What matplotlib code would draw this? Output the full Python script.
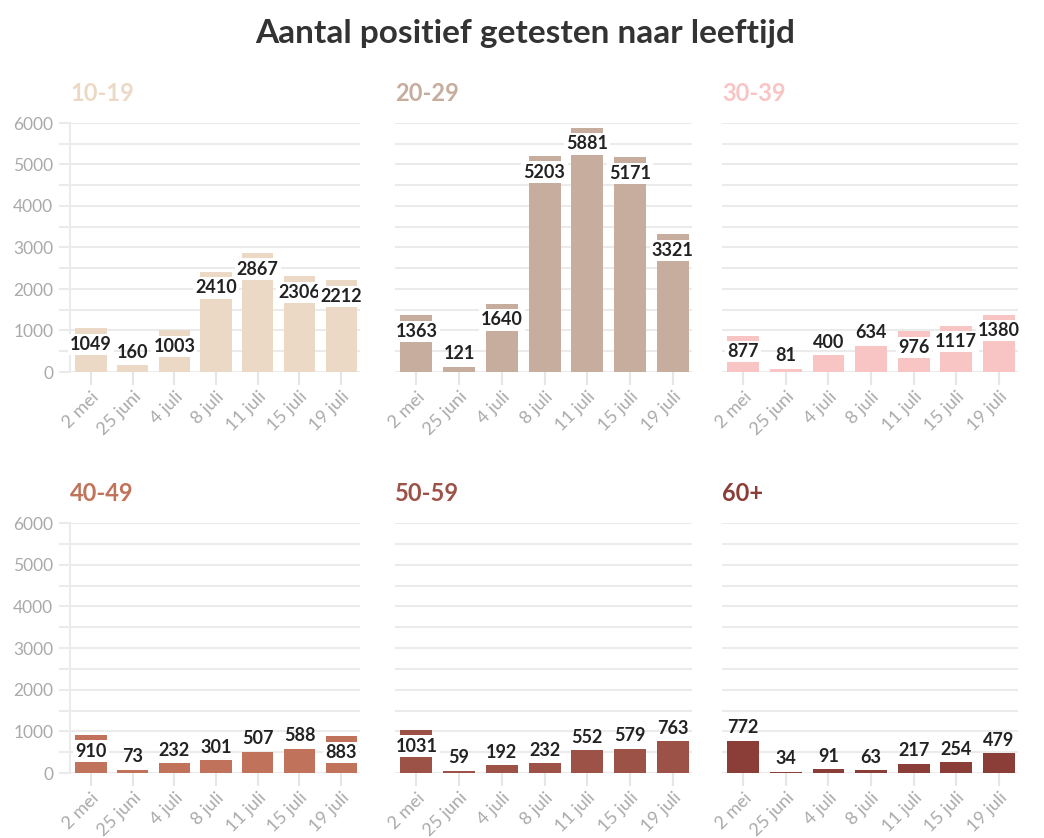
import matplotlib
matplotlib.use('Agg')
import matplotlib.pyplot as plt
import numpy as np

plt.rcParams['font.family'] = ['Lato', 'DejaVu Sans']

dates = ['2 mei', '25 juni', '4 juli', '8 juli', '11 juli', '15 juli', '19 juli']
groups = ['10-19', '20-29', '30-39', '40-49', '50-59', '60+']
colors = ['#ecd9c5', '#c6ad9e', '#f9c4c4', '#c0735a', '#9d5248', '#8b3d37']

v_10_19 = [1049, 160, 1003, 2410, 2867, 2306, 2212]
v_20_29 = [1363, 121, 1640, 5203, 5881, 5171, 3321]
v_30_39 = [877, 81, 400, 634, 976, 1117, 1380]
v_40_49 = [910, 73, 232, 301, 507, 588, 883]
v_50_59 = [1031, 59, 192, 232, 552, 579, 763]
v_60 = [772, 34, 91, 63, 217, 254, 479]
values = [v_10_19, v_20_29, v_30_39, v_40_49, v_50_59, v_60]

W, H = 1044, 838
fig = plt.figure(figsize=(W / 100, H / 100), dpi=100)

# axes boxes in pixels: left, right (x); y of zero line, y of 6000 line
cols = [(70, 360), (395, 692), (722, 1018)]
rows = [(372, 123), (773, 523)]

fig.text(525 / W, 1 - 33 / H, 'Aantal positief getesten naar leeftijd',
         ha='center', va='center', fontsize=24, fontweight='bold', color='#333333')

grid_c = '#ebebeb'
x = np.arange(len(dates))

for i, (name, vals, col) in enumerate(zip(groups, values, colors)):
    r, c = divmod(i, 3)
    l, rgt = cols[c]
    y0, y1 = rows[r]
    ax = fig.add_axes([l / W, 1 - y0 / H, (rgt - l) / W, (y0 - y1) / H])
    ax.set_xlim(-0.5, 6.45)
    ax.set_ylim(0, 6000)
    ax.set_yticks(np.arange(0, 6001, 1000))
    ax.set_yticks(np.arange(500, 6000, 1000), minor=True)
    ax.grid(axis='y', which='both', color=grid_c, linewidth=1.5, zorder=0)
    ax.set_axisbelow(True)
    for s in ['top', 'right', 'bottom']:
        ax.spines[s].set_visible(False)
    if c == 0:
        ax.spines['left'].set_color(grid_c)
        ax.spines['left'].set_linewidth(1.5)
        ax.tick_params(axis='y', which='both', length=8, width=1.5, color=grid_c,
                       labelsize=12.5, labelcolor='#aaaaaa', pad=4)
    else:
        ax.spines['left'].set_visible(False)
        ax.tick_params(axis='y', which='both', length=0, labelleft=False)

    ax.bar(x, vals, width=0.75, color=col, zorder=2)
    ax.set_xticks(x)
    ax.set_xticklabels(dates, rotation=45, ha='right', va='top',
                       rotation_mode='anchor')
    ax.tick_params(axis='x', length=9, width=1.5, color='#e6e6e6',
                   labelsize=13, labelcolor='#aaaaaa', pad=3)

    for xi, v in zip(x, vals):
        inside = v >= 800
        off = -16 if inside else 13
        ax.annotate(str(v), (xi, v), xytext=(0, off), textcoords='offset pixels',
                    ha='center', va='center', fontsize=13, fontweight='bold',
                    color='#222222', zorder=4,
                    bbox=dict(boxstyle='square,pad=0.12', fc='white', ec='none')
                    if inside else None)

    ax.text(0, 1 + 30 / 250, name, transform=ax.transAxes, ha='left', va='center',
            fontsize=17, fontweight='bold', color=col)

fig.savefig('out.png', dpi=100, facecolor='white')
